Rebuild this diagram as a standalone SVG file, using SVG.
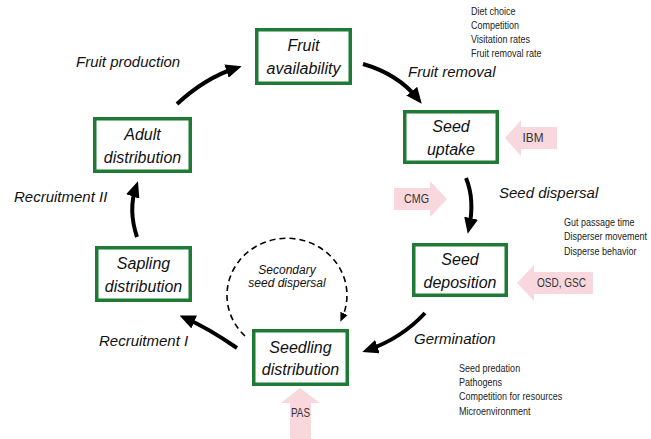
<svg xmlns="http://www.w3.org/2000/svg" width="651" height="439" viewBox="0 0 651 439">
<style>
.box{fill:#fff;stroke:#1f7a35;stroke-width:3.5}
.bt{font-family:"Liberation Sans",Arial,sans-serif;font-style:italic;font-size:16px;fill:#111;text-anchor:middle}
.lab{font-family:"Liberation Sans",Arial,sans-serif;font-style:italic;font-size:15px;fill:#111}
.note{font-family:"Liberation Sans",Arial,sans-serif;font-size:11px;fill:#222}
.pk{fill:#f8d8dd}
.pt{font-family:"Liberation Sans",Arial,sans-serif;font-size:12px;fill:#333;text-anchor:middle}
.conn{fill:none;stroke:#000;stroke-width:4;marker-end:url(#ah)}
.dash{fill:none;stroke:#000;stroke-width:1.6;stroke-dasharray:6 4;marker-end:url(#ahs)}
</style>
<defs>
<marker id="ah" markerUnits="userSpaceOnUse" markerWidth="16" markerHeight="14" viewBox="0 0 16 14" refX="10" refY="7" orient="auto"><path d="M0,0 L16,7 L0,14 z" fill="#000"/></marker>
<marker id="ahs" markerUnits="userSpaceOnUse" markerWidth="9" markerHeight="8" viewBox="0 0 9 8" refX="5" refY="4" orient="auto"><path d="M0,0 L9,4 L0,8 z" fill="#000"/></marker>
</defs>
<rect width="651" height="439" fill="#fff"/>

<g id="connectors">
<path class="conn" d="M177,104 Q205,78 236,68"/>
<path class="conn" d="M363,64 Q398,74 418,99"/>
<path class="conn" d="M466,178 Q475,200 469,228"/>
<path class="conn" d="M425,313 Q402,338 368,350"/>
<path class="conn" d="M237,348 Q208,328 185,318"/>
<path class="conn" d="M137,237 Q128,210 136,187"/>
<path class="dash" d="M245,336 A60,57 0 1 1 342,318"/>
</g>

<g id="fruit-availability">
<rect class="box" x="256.75" y="29.75" width="93.5" height="53.5"/>
<text class="bt" x="303.5" y="51">Fruit</text>
<text class="bt" x="303.5" y="74">availability</text>
</g>
<g id="seed-uptake">
<rect class="box" x="404.75" y="111.75" width="92.5" height="50.5"/>
<text class="bt" x="451" y="132">Seed</text>
<text class="bt" x="451" y="155">uptake</text>
</g>
<g id="seed-deposition">
<rect class="box" x="413.75" y="244.75" width="92.5" height="50.5"/>
<text class="bt" x="460" y="265">Seed</text>
<text class="bt" x="460" y="288">deposition</text>
</g>
<g id="seedling-distribution">
<rect class="box" x="253.75" y="330.75" width="93.5" height="53.5"/>
<text class="bt" x="300.5" y="353">Seedling</text>
<text class="bt" x="300.5" y="375">distribution</text>
</g>
<g id="sapling-distribution">
<rect class="box" x="96.75" y="247.75" width="93.5" height="52.5"/>
<text class="bt" x="143.5" y="269">Sapling</text>
<text class="bt" x="143.5" y="292">distribution</text>
</g>
<g id="adult-distribution">
<rect class="box" x="94.75" y="118.75" width="95.5" height="52.5"/>
<text class="bt" x="142.5" y="140">Adult</text>
<text class="bt" x="142.5" y="163">distribution</text>
</g>

<g id="labels">
<text class="lab" x="76" y="67">Fruit production</text>
<text class="lab" x="408" y="77">Fruit removal</text>
<text class="lab" x="499" y="198">Seed dispersal</text>
<text class="lab" x="414" y="344">Germination</text>
<text class="lab" x="99" y="346">Recruitment I</text>
<text class="lab" x="14" y="202">Recruitment II</text>
<text class="lab" x="287" y="274" style="font-size:12px;text-anchor:middle">Secondary</text>
<text class="lab" x="287" y="287" style="font-size:12px;text-anchor:middle">seed dispersal</text>
</g>

<g id="notes" transform="scale(0.82,1)">
<text class="note" x="574.4" y="15">Diet choice</text>
<text class="note" x="574.4" y="29">Competition</text>
<text class="note" x="574.4" y="43">Visitation rates</text>
<text class="note" x="574.4" y="57">Fruit removal rate</text>
<text class="note" x="687.8" y="226">Gut passage time</text>
<text class="note" x="687.8" y="240">Disperser movement</text>
<text class="note" x="687.8" y="255">Disperse behavior</text>
<text class="note" x="559.8" y="372">Seed predation</text>
<text class="note" x="559.8" y="386">Pathogens</text>
<text class="note" x="559.8" y="400">Competition for resources</text>
<text class="note" x="559.8" y="415">Microenvironment</text>
</g>

<g id="ibm">
<path class="pk" d="M505,138 L521,120 L521,127 L557,127 L557,149 L521,149 L521,156 z"/>
<text class="pt" x="533" y="142" textLength="21" lengthAdjust="spacingAndGlyphs">IBM</text>
</g>
<g id="cmg">
<path class="pk" d="M447,199 L430,181 L430,188 L394,188 L394,210 L430,210 L430,217 z"/>
<text class="pt" x="416.5" y="203" textLength="25" lengthAdjust="spacingAndGlyphs">CMG</text>
</g>
<g id="osd-gsc">
<path class="pk" d="M517,283 L534,265 L534,272 L593,272 L593,294 L534,294 L534,301 z"/>
<text class="pt" x="561.5" y="287" textLength="49" lengthAdjust="spacingAndGlyphs">OSD, GSC</text>
</g>
<g id="pas">
<path class="pk" d="M300,388 L281,403 L290,403 L290,439 L311,439 L311,403 L320,403 z"/>
<text class="pt" x="300.5" y="417" textLength="19" lengthAdjust="spacingAndGlyphs">PAS</text>
</g>
</svg>
